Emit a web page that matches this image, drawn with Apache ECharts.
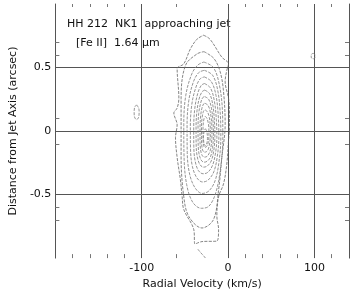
<!DOCTYPE html>
<html>
<head>
<meta charset="utf-8">
<script src="https://cdn.jsdelivr.net/npm/echarts@6/dist/echarts.min.js"></script>
<style>html,body{margin:0;padding:0;background:#fff}#c{width:354px;height:295px}</style>
</head>
<body>
<div id="c"></div>
<script>
// axis values
var xLabels = [-100, 0, 100];
var yLabels = [-0.5, 0, 0.5];
var xMinorTicks = [-180, -160, -140, -120, -60, 20, 40, 60, 80, 120];
var yMinorTicks = [0.7, 0.6, 0.1, -0.1, -0.6, -0.7];

// contours: [velocity km/s, distance arcsec]
var c1 = [[-28.3,0.754],[-21.0,0.723],[-7.2,0.581],[0.5,0.529],[-1.5,0.478],[-3.4,0.390],[0.5,0.258],[1.6,0.157],[1.6,0.026],[0.5,-0.075],[-1.5,-0.261],[-5.3,-0.416],[-11.0,-0.517],[-13.0,-0.672],[-11.0,-0.773],[-13.0,-0.866],[-30.2,-0.870],[-38.3,-0.889],[-39.8,-0.773],[-51.3,-0.618],[-53.2,-0.517],[-55.2,-0.385],[-59.0,-0.207],[-60.9,-0.052],[-59.0,0.049],[-62.8,0.142],[-59.0,0.181],[-57.0,0.258],[-59.0,0.491],[-51.3,0.529],[-43.7,0.646],[-36.0,0.723],[-28.3,0.754]];
var c2 = [[-27.9,0.625],[-16.4,0.571],[-9.2,0.467],[-5.3,0.312],[-3.4,0.05],[-7.2,-0.207],[-11,-0.463],[-16.8,-0.695],[-30.2,-0.763],[-45.5,-0.672],[-51.3,-0.517],[-54.4,-0.207],[-54.4,0.258],[-49.4,0.516],[-36,0.607],[-27.9,0.625]];
var c3 = [[-28,0.543],[-17,0.5],[-10,0.36],[-6.5,0.15],[-6.1,-0.05],[-8.5,-0.28],[-14,-0.48],[-22,-0.59],[-31,-0.608],[-41,-0.56],[-48,-0.42],[-51,-0.2],[-51.3,0.05],[-49,0.28],[-42,0.45],[-35,0.52],[-28,0.543]];
var c4 = [[-27.5,0.478],[-18,0.44],[-12,0.32],[-9,0.13],[-8.4,-0.05],[-10.5,-0.24],[-15,-0.39],[-22,-0.47],[-30,-0.491],[-38,-0.45],[-44.5,-0.34],[-47.3,-0.17],[-47.5,0.04],[-45.5,0.24],[-40,0.39],[-34,0.46],[-27.5,0.478]];
var c5 = [[-27.5,0.426],[-19.5,0.39],[-14,0.28],[-11.3,0.11],[-10.7,-0.05],[-12.5,-0.2],[-16.5,-0.32],[-23,-0.385],[-29.5,-0.401],[-36,-0.37],[-41.3,-0.28],[-43.5,-0.14],[-43.7,0.03],[-42,0.21],[-37.5,0.34],[-32.5,0.41],[-27.5,0.426]];
var c6 = [[-27.3,0.374],[-20.5,0.34],[-16,0.24],[-13.6,0.09],[-13,-0.05],[-14.5,-0.17],[-18,-0.27],[-23.5,-0.325],[-29,-0.336],[-34.5,-0.31],[-38.3,-0.23],[-39.7,-0.12],[-39.8,0.03],[-38.5,0.18],[-35,0.3],[-31,0.36],[-27.3,0.374]];
var c7 = [[-27,0.322],[-21.5,0.295],[-17.8,0.21],[-15.8,0.08],[-15.3,-0.04],[-16.5,-0.15],[-19.5,-0.235],[-24,-0.275],[-28.5,-0.284],[-33,-0.26],[-36,-0.19],[-37,-0.1],[-37.1,0.03],[-36,0.16],[-33.3,0.26],[-30,0.31],[-27,0.322]];
var c8 = [[-27,0.271],[-22.5,0.25],[-19.3,0.18],[-17.4,0.07],[-17,-0.04],[-18,-0.13],[-20.5,-0.205],[-24.3,-0.238],[-28,-0.245],[-31.5,-0.225],[-34,-0.165],[-34.7,-0.08],[-34.8,0.03],[-34,0.14],[-31.8,0.22],[-29.5,0.262],[-27,0.271]];
var c9 = [[-26.8,0.219],[-23,0.2],[-20.5,0.145],[-19,0.06],[-18.7,-0.03],[-19.5,-0.11],[-21.5,-0.17],[-24.5,-0.2],[-27.8,-0.205],[-30.5,-0.185],[-32,-0.14],[-32.5,-0.07],[-32.5,0.03],[-31.8,0.12],[-30.3,0.18],[-28.5,0.212],[-26.8,0.219]];
var c10 = [[-26.6,0.167],[-23.8,0.15],[-21.7,0.105],[-20.7,0.04],[-20.5,-0.03],[-21.2,-0.09],[-22.8,-0.14],[-25,-0.162],[-27.5,-0.166],[-29.5,-0.15],[-30.5,-0.11],[-30.8,-0.05],[-30.8,0.03],[-30.2,0.1],[-29,0.145],[-27.8,0.163],[-26.6,0.167]];
var c11 = [[-26.4,0.116],[-24.5,0.1],[-23,0.065],[-22.3,0.02],[-22.2,-0.03],[-22.7,-0.08],[-24,-0.113],[-25.5,-0.126],[-27,-0.129],[-28.3,-0.115],[-29,-0.08],[-29.1,-0.03],[-29,0.03],[-28.5,0.075],[-27.6,0.105],[-27,0.113],[-26.4,0.116]];
var c12 = [[-26.2,0.018],[-24.8,0.0],[-24.0,-0.035],[-23.9,-0.06],[-24.4,-0.09],[-25.5,-0.11],[-26.5,-0.116],[-27.6,-0.105],[-28.3,-0.08],[-28.5,-0.05],[-28.1,-0.015],[-27.2,0.01],[-26.2,0.018]];
var tailBottom = [[-35,-0.93],[-32,-0.955],[-28,-0.985],[-25,-1.01]];
var blobLeft = [[-106,0.206],[-103.5,0.18],[-103,0.148],[-103.5,0.11],[-106,0.09],[-108.3,0.11],[-108.8,0.148],[-108.3,0.185],[-106,0.206]];
var blobRight = [[98.5,0.612],[100.6,0.6],[100.8,0.59],[100.3,0.575],[98.5,0.568],[96.6,0.575],[96.2,0.59],[96.6,0.605],[98.5,0.612]];

var contours = [c1,c2,c3,c4,c5,c6,c7,c8,c9,c10,c11,c12,tailBottom,blobLeft,blobRight];

var FONT = 'DejaVu Sans';
var chart = echarts.init(document.getElementById('c'), null, {renderer:'canvas'});
var gridCol = '#555';
var tickCol = '#777';

function tickAxis(pos, min, max, vals, len) {
  return {
    type:'value', position:pos, min:min, max:max, gridIndex:0,
    axisLine:{show:false, onZero:false}, axisLabel:{show:false}, splitLine:{show:false},
    axisTick:{show:true, inside:true, length:len, customValues:vals, lineStyle:{color:tickCol, width:1}}
  };
}

var series = contours.map(function(c, i){
  return {
    type:'line', data:c, showSymbol:false, symbol:'none', smooth:0.35,
    xAxisIndex:0, yAxisIndex:0, silent:true, clip:true,
    lineStyle:{color: i < 2 ? '#666' : '#7a7a7a', width:0.8, type:[3,1.3]}
  };
});

chart.setOption({
  animation:false,
  backgroundColor:'#fff',
  grid:{left:52, right:5, top:4, bottom:33, containLabel:false},
  xAxis:[
    {type:'value', position:'bottom', min:-200, max:140, interval:100,
     axisLine:{show:false, onZero:false}, axisTick:{show:false},
     splitLine:{show:true, showMinLine:false, showMaxLine:false, lineStyle:{color:gridCol, width:1}},
     axisLabel:{customValues:xLabels, fontFamily:FONT, fontSize:11, color:'#111', margin:5},
     name:'Radial Velocity (km/s)', nameLocation:'middle', nameGap:17,
     nameTextStyle:{fontFamily:FONT, fontSize:11, color:'#111'}},
    tickAxis('bottom', -200, 140, xMinorTicks, 4),
    tickAxis('top', -200, 140, xMinorTicks, 3)
  ],
  yAxis:[
    {type:'value', position:'left', min:-1, max:1, interval:0.5,
     axisLine:{show:true, onZero:false, lineStyle:{color:gridCol, width:1}}, axisTick:{show:false},
     splitLine:{show:true, showMinLine:false, showMaxLine:false, lineStyle:{color:gridCol, width:1}},
     axisLabel:{customValues:yLabels, fontFamily:FONT, fontSize:11, color:'#111', margin:4},
     name:'Distance from Jet Axis (arcsec)', nameLocation:'middle', nameGap:32,
     nameTextStyle:{fontFamily:FONT, fontSize:11, color:'#111'}},
    tickAxis('left', -1, 1, yMinorTicks, 4),
    {type:'value', position:'right', min:-1, max:1, gridIndex:0,
     axisLine:{show:true, onZero:false, lineStyle:{color:gridCol, width:1}}, axisLabel:{show:false}, splitLine:{show:false},
     axisTick:{show:true, inside:true, length:4, customValues:yMinorTicks, lineStyle:{color:tickCol, width:1}}}
  ],
  graphic:[
    {type:'text', left:67, top:19, style:{text:'HH 212  NK1  approaching jet', font:'11px "DejaVu Sans"', fill:'#111'}},
    {type:'text', left:76, top:38, style:{text:'[Fe II]  1.64 µm', font:'11px "DejaVu Sans"', fill:'#111'}}
  ],
  series:series
});
</script>
</body>
</html>
